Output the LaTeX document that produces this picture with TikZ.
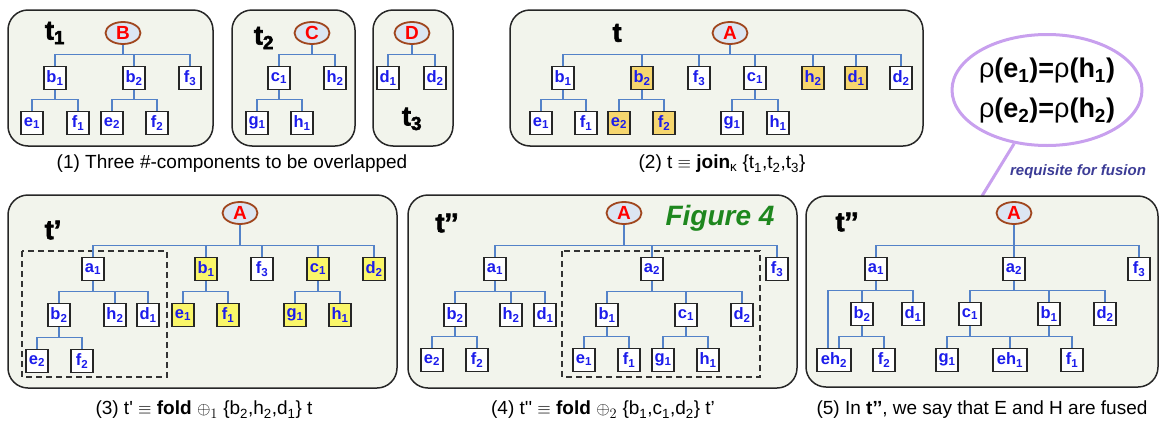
\documentclass[tikz,border=0pt]{standalone}
\usepackage{fontspec}
\setmainfont{Liberation Sans}
\newfontfamily\heavyfont[FakeBold=2.5]{Liberation Sans Bold}
\usetikzlibrary{shapes.geometric,calc}

\definecolor{panelfill}{RGB}{242,244,236}
\definecolor{linkblue}{RGB}{84,130,200}
\definecolor{labelblue}{RGB}{28,28,235}
\definecolor{goldfill}{RGB}{246,214,110}
\definecolor{lemonfill}{RGB}{250,246,105}
\definecolor{rootedge}{RGB}{160,70,30}
\definecolor{rootfill}{RGB}{220,230,242}
\definecolor{lilac}{RGB}{200,160,238}
\definecolor{figgreen}{RGB}{30,135,30}
\definecolor{notecol}{RGB}{60,60,150}

\newcommand{\nlab}[2]{#1\textsubscript{#2}}
% parent -> child, elbow through a bus above the child
\newcommand{\branch}[2]{\draw[link] (#1.south) |- ([yshift=11pt]#2.north) -- (#2.north);}

\tikzset{
	panel/.style={draw=black!85, fill=panelfill, line width=1.5pt, rounded corners=20pt},
	box/.style={draw=black!85, fill=white, line width=1.4pt, minimum width=22pt, minimum height=23pt, inner sep=0pt, text=labelblue, font=\fontsize{16.5}{16.5}\selectfont\bfseries},
	widebox/.style={box, minimum width=34pt},
	goldbox/.style={box, fill=goldfill},
	lemonbox/.style={box, fill=lemonfill},
	root/.style={ellipse, draw=rootedge, fill=rootfill, line width=1.8pt, minimum width=35pt, minimum height=22pt, inner sep=0pt, text=red, font=\fontsize{19}{19}\selectfont\bfseries},
	link/.style={draw=linkblue, line width=1.3pt},
	tname/.style={font=\fontsize{27}{27}\heavyfont},
	caption/.style={font=\fontsize{19}{19}\selectfont},
	foldbox/.style={draw=black!80, line width=1.2pt, dash pattern=on 6pt off 4pt},
}

\begin{document}
\begin{tikzpicture}[x=1pt,y=1pt]
\useasboundingbox (0,0) rectangle (1162,-426);

	\begin{scope} % (1) three components
		\draw[panel] (8,-10) rectangle (213,-146);
		\draw[panel] (232,-10) rectangle (355,-146);
		\draw[panel] (373,-10) rectangle (453,-146);
		\node[tname] (p1t1) at (55,-33) {\nlab{t}{1}};
		\node[tname] (p1t2) at (264,-38) {\nlab{t}{2}};
		\node[tname] (p1t3) at (412,-119) {\nlab{t}{3}};
		\node[root] (p1B) at (123,-33) {B};
		\node[box] (p1b1) at (55,-78) {\nlab{b}{1}};
		\node[box] (p1b2) at (134,-78) {\nlab{b}{2}};
		\node[box] (p1f3) at (190,-78) {\nlab{f}{3}};
		\node[box] (p1e1) at (32,-123) {\nlab{e}{1}};
		\node[box] (p1f1) at (78,-123) {\nlab{f}{1}};
		\node[box] (p1e2) at (112,-123) {\nlab{e}{2}};
		\node[box] (p1f2) at (157,-123) {\nlab{f}{2}};
		\node[root] (p1C) at (312,-33) {C};
		\node[box] (p1c1) at (279,-78) {\nlab{c}{1}};
		\node[box] (p1h2) at (335,-78) {\nlab{h}{2}};
		\node[box] (p1g1) at (257,-123) {\nlab{g}{1}};
		\node[box] (p1h1) at (302,-123) {\nlab{h}{1}};
		\node[root] (p1D) at (412,-33) {D};
		\node[box] (p1d1) at (388,-78) {\nlab{d}{1}};
		\node[box] (p1d2) at (435,-78) {\nlab{d}{2}};
		\branch{p1B}{p1b1} \branch{p1B}{p1b2} \branch{p1B}{p1f3}
		\branch{p1b1}{p1e1} \branch{p1b1}{p1f1}
		\branch{p1b2}{p1e2} \branch{p1b2}{p1f2}
		\branch{p1C}{p1c1} \branch{p1C}{p1h2}
		\branch{p1c1}{p1g1} \branch{p1c1}{p1h1}
		\branch{p1D}{p1d1} \branch{p1D}{p1d2}
		\node[caption] (cap1) at (232,-164) {(1) Three \#-components to be overlapped};
	\end{scope}

	\begin{scope} % (2) join
		\draw[panel] (510,-10) rectangle (923,-146);
		\node[tname] (p2t) at (617,-33) {t};
		\node[root] (p2A) at (730,-33) {A};
		\node[box] (p2b1) at (563,-78) {\nlab{b}{1}};
		\node[goldbox] (p2b2) at (642,-78) {\nlab{b}{2}};
		\node[box] (p2f3) at (699,-78) {\nlab{f}{3}};
		\node[box] (p2c1) at (755,-78) {\nlab{c}{1}};
		\node[goldbox] (p2h2) at (813,-78) {\nlab{h}{2}};
		\node[goldbox] (p2d1) at (856,-78) {\nlab{d}{1}};
		\node[box] (p2d2) at (901,-78) {\nlab{d}{2}};
		\node[box] (p2e1) at (541,-123) {\nlab{e}{1}};
		\node[box] (p2f1) at (586,-123) {\nlab{f}{1}};
		\node[goldbox] (p2e2) at (619,-123) {\nlab{e}{2}};
		\node[goldbox] (p2f2) at (664,-123) {\nlab{f}{2}};
		\node[box] (p2g1) at (732,-123) {\nlab{g}{1}};
		\node[box] (p2h1) at (778,-123) {\nlab{h}{1}};
		\foreach \c in {b1,b2,f3,c1,h2,d1,d2}
			{\branch{p2A}{p2\c}}
		\branch{p2b1}{p2e1} \branch{p2b1}{p2f1}
		\branch{p2b2}{p2e2} \branch{p2b2}{p2f2}
		\branch{p2c1}{p2g1} \branch{p2c1}{p2h1}
		\node[caption] (cap2) at (722,-164) {(2) t $\equiv$ \textbf{join}\textsubscript{κ} \{\nlab{t}{1},\nlab{t}{2},\nlab{t}{3}\}};
	\end{scope}

	% fusion note
	\node[ellipse, draw=lilac, line width=3pt, minimum width=190pt, minimum height=111pt] (fuse) at (1047,-90) {};
	\node[font=\fontsize{27}{27}\selectfont] (rho1) at (1047,-71) {ρ\textbf{(e\textsubscript{1})=}ρ\textbf{(h\textsubscript{1})}};
	\node[font=\fontsize{27}{27}\selectfont] (rho2) at (1047,-111) {ρ\textbf{(e\textsubscript{2})=}ρ\textbf{(h\textsubscript{2})}};
	\coordinate (p5top) at (982,-196);
	\draw[lilac, line width=3pt] (fuse) -- (p5top);
	\node[text=notecol, font=\fontsize{15}{15}\selectfont\bfseries\itshape] (note) at (1078,-172) {requisite for fusion};

	\begin{scope} % (3) first fold
		\draw[panel] (8,-195) rectangle (397,-388);
		\draw[foldbox] (22,-251) rectangle (167,-377);
		\node[tname] (p3t) at (53,-230) {t’};
		\node[root] (p3A) at (240,-213) {A};
		\node[box] (p3a1) at (93,-269) {\nlab{a}{1}};
		\node[lemonbox] (p3b1) at (206,-269) {\nlab{b}{1}};
		\node[box] (p3f3) at (262,-269) {\nlab{f}{3}};
		\node[lemonbox] (p3c1) at (318,-269) {\nlab{c}{1}};
		\node[lemonbox] (p3d2) at (374,-269) {\nlab{d}{2}};
		\node[box] (p3b2) at (59,-315) {\nlab{b}{2}};
		\node[box] (p3h2) at (115,-315) {\nlab{h}{2}};
		\node[box] (p3d1) at (148,-315) {\nlab{d}{1}};
		\node[lemonbox] (p3e1) at (183,-315) {\nlab{e}{1}};
		\node[lemonbox] (p3f1) at (228,-315) {\nlab{f}{1}};
		\node[lemonbox] (p3g1) at (295,-315) {\nlab{g}{1}};
		\node[lemonbox] (p3h1) at (340,-315) {\nlab{h}{1}};
		\node[box] (p3e2) at (37,-361) {\nlab{e}{2}};
		\node[box] (p3f2) at (82,-361) {\nlab{f}{2}};
		\foreach \c in {a1,b1,f3,c1,d2}
			{\branch{p3A}{p3\c}}
		\branch{p3a1}{p3b2} \branch{p3a1}{p3h2} \branch{p3a1}{p3d1}
		\branch{p3b2}{p3e2} \branch{p3b2}{p3f2}
		\branch{p3b1}{p3e1} \branch{p3b1}{p3f1}
		\branch{p3c1}{p3g1} \branch{p3c1}{p3h1}
		\node[caption] (cap3) at (204,-410) {(3) t\textquotesingle{} $\equiv$ \textbf{fold} $\oplus_1$ \{\nlab{b}{2},\nlab{h}{2},\nlab{d}{1}\} t};
	\end{scope}

	\begin{scope} % (4) second fold
		\draw[panel] (408,-195) rectangle (797,-388);
		\draw[foldbox] (562,-251) rectangle (760,-377);
		\node[tname] (p4t) at (447,-223) {t’’};
		\node[text=figgreen, font=\fontsize{28}{28}\selectfont\bfseries\itshape] (fig) at (720,-218) {Figure 4};
		\node[root] (p4A) at (624,-213) {A};
		\node[box] (p4a1) at (495,-269) {\nlab{a}{1}};
		\node[box] (p4a2) at (652,-269) {\nlab{a}{2}};
		\node[box] (p4f3) at (777,-269) {\nlab{f}{3}};
		\node[box] (p4b2) at (455,-315) {\nlab{b}{2}};
		\node[box] (p4h2) at (511,-315) {\nlab{h}{2}};
		\node[box] (p4d1) at (545,-315) {\nlab{d}{1}};
		\node[box] (p4b1) at (607,-315) {\nlab{b}{1}};
		\node[box] (p4c1) at (686,-315) {\nlab{c}{1}};
		\node[box] (p4d2) at (742,-315) {\nlab{d}{2}};
		\node[box] (p4e2) at (432,-360) {\nlab{e}{2}};
		\node[box] (p4f2) at (477,-360) {\nlab{f}{2}};
		\node[box] (p4e1) at (584,-360) {\nlab{e}{1}};
		\node[box] (p4f1) at (629,-360) {\nlab{f}{1}};
		\node[box] (p4g1) at (663,-360) {\nlab{g}{1}};
		\node[box] (p4h1) at (708,-360) {\nlab{h}{1}};
		\branch{p4A}{p4a1} \branch{p4A}{p4a2} \branch{p4A}{p4f3}
		\branch{p4a1}{p4b2} \branch{p4a1}{p4h2} \branch{p4a1}{p4d1}
		\branch{p4b2}{p4e2} \branch{p4b2}{p4f2}
		\branch{p4a2}{p4b1} \branch{p4a2}{p4c1} \branch{p4a2}{p4d2}
		\branch{p4b1}{p4e1} \branch{p4b1}{p4f1}
		\branch{p4c1}{p4g1} \branch{p4c1}{p4h1}
		\node[caption] (cap4) at (603,-410) {(4) t\textquotesingle\textquotesingle{} $\equiv$ \textbf{fold} $\oplus_2$ \{\nlab{b}{1},\nlab{c}{1},\nlab{d}{2}\} t’};
	\end{scope}

	\begin{scope} % (5) fused
		\draw[panel] (806,-196) rectangle (1158,-387);
		\node[tname] (p5t) at (847,-222) {t’’};
		\node[root] (p5A) at (1014,-213) {A};
		\node[box] (p5a1) at (876,-269) {\nlab{a}{1}};
		\node[box] (p5a2) at (1014,-269) {\nlab{a}{2}};
		\node[box] (p5f3) at (1139,-269) {\nlab{f}{3}};
		\node[box] (p5b2) at (862,-314) {\nlab{b}{2}};
		\node[box] (p5d1) at (913,-314) {\nlab{d}{1}};
		\node[box] (p5c1) at (970,-314) {\nlab{c}{1}};
		\node[box] (p5b1) at (1049,-314) {\nlab{b}{1}};
		\node[box] (p5d2) at (1105,-314) {\nlab{d}{2}};
		\node[widebox] (p5eh2) at (834,-360) {\nlab{eh}{2}};
		\node[box] (p5f2) at (884,-360) {\nlab{f}{2}};
		\node[box] (p5g1) at (947,-360) {\nlab{g}{1}};
		\node[widebox] (p5eh1) at (1010,-360) {\nlab{eh}{1}};
		\node[box] (p5f1) at (1072,-360) {\nlab{f}{1}};
		\branch{p5A}{p5a1} \branch{p5A}{p5a2} \branch{p5A}{p5f3}
		\branch{p5a1}{p5b2} \branch{p5a1}{p5d1}
		\coordinate (p5bus) at ([yshift=11pt]p5b2.north);
		\coordinate (p5eh2l) at ([xshift=-6pt]p5eh2.north);
		\coordinate (p5eh2r) at ([xshift=5pt]p5eh2.north);
		\draw[link] (p5a1.south) |- (p5eh2l |- p5bus) -- (p5eh2l);
		\draw[link] (p5b2.south) |- ([yshift=11pt]p5eh2r) -- (p5eh2r);
		\branch{p5b2}{p5f2}
		\branch{p5a2}{p5c1} \branch{p5a2}{p5b1} \branch{p5a2}{p5d2}
		\branch{p5c1}{p5g1} \branch{p5c1}{p5eh1}
		\branch{p5b1}{p5eh1} \branch{p5b1}{p5f1}
		\node[caption] (cap5) at (982,-410) {(5) In \textbf{t’’}, we say that E and H are fused};
	\end{scope}
\end{tikzpicture}
\end{document}
